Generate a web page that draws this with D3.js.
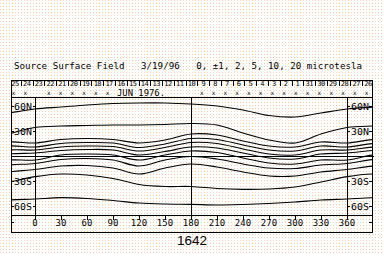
<!DOCTYPE html>
<html>
<head>
<meta charset="utf-8">
<script src="https://cdn.jsdelivr.net/npm/d3@7"></script>
<style>
  html, body { margin: 0; padding: 0; background: #fff; }
  svg { display: block; }
  text { font-family: "DejaVu Sans Mono", monospace; fill: #000; }
</style>
</head>
<body>
<svg id="chart"></svg>
<script>
"use strict";

// longitudes of the contour samples (periodic, 360 = 0)
const lons = [0, 30, 60, 90, 120, 150, 180, 210, 240, 270, 300, 330];

// contour latitudes (deg) at each longitude, levels in microtesla
const cP20 = [56.4, 58.8, 61.2, 63, 63.6, 63.6, 62.4, 60, 55.2, 48.6, 46.8, 51.6];
const cP10 = [34.2, 36, 36.6, 37.2, 37.2, 37.8, 39, 37.2, 27.6, 19.2, 15.6, 26.4];
const cP5 = [15.6, 19.8, 21, 19.8, 15.6, 19.2, 26.4, 25.2, 18, 12, 10.8, 16.8];
const cP2 = [10.8, 15, 16.2, 15.6, 10.2, 14.4, 21, 19.8, 13.2, 7.2, 6, 12];
const cP1 = [7.2, 10.8, 12, 11.4, 6, 10.2, 16.2, 15, 8.4, 2.4, 1.2, 7.2];
const c0 = [3.6, 6.6, 7.8, 7.2, 1.2, 5.4, 10.8, 9.6, 3.6, -2.4, -3.6, 2.4];
const cM1 = [-4.8, 1.2, 2.4, 1.2, -4.8, 1.2, 6, 4.2, -2.4, -8.4, -9.6, -4.8];
const cM2 = [-9, -4.2, -3, -4.8, -12, -4.8, -0.6, -3.6, -9.6, -14.4, -15, -10.8];
const cM5 = [-16.2, -12, -11.4, -14.4, -21.6, -14.4, -9.6, -13.2, -19.2, -24, -24, -19.2];
const cM10 = [-24.8, -21.6, -22.8, -27, -34.2, -36.6, -36.6, -39, -40, -39.6, -37.2, -31.2];
const cM20 = [-51.6, -50, -51, -53.4, -56.4, -57.6, -58, -58.8, -58.2, -57, -55.2, -52.8];
const contours = [cP20, cP10, cP5, cP2, cP1, c0, cM1, cM2, cM5, cM10, cM20];

// axes
const lonTicks = [0, 30, 60, 90, 120, 150, 180, 210, 240, 270, 300, 330, 360];
const latTicks = [60, 30, -30, -60];
const latLabels = ["60N", "30N", "30S", "60S"];

// day numbers along the top strip (time runs right to left)
const days = [25, 24, 23, 22, 21, 20, 19, 18, 17, 16, 15, 14, 13, 12, 11, 10, 9, 8, 7, 6, 5, 4, 3, 2, 1, 31, 30, 29, 28, 27, 26];
const markedDays = [25, 24, 22, 21, 20, 19, 18, 17, 9, 8, 7, 6, 5, 4, 3, 2, 1, 31, 30, 29, 28, 27, 26];

const titleText = "Source Surface Field   3/19/96   0, \u00b11, 2, 5, 10, 20 microtesla";
const monthText = "JUN 1976.";
const rotationText = "1642";

const width = 384;
const height = 254;

const svg = d3.select("#chart")
    .attr("width", width)
    .attr("height", height);

// dotted paper background
const defs = svg.append("defs");
const pat = defs.append("pattern")
    .attr("id", "dots")
    .attr("width", 6).attr("height", 6)
    .attr("patternUnits", "userSpaceOnUse");
pat.append("rect").attr("width", 6).attr("height", 6).attr("fill", "#fff");
[[0, 0, "#f8cc9c"], [3, 0, "#f6cfc6"], [0, 3, "#f6cfc6"], [3, 3, "#f8cc9c"]].forEach(d => {
    pat.append("rect").attr("x", d[0]).attr("y", d[1]).attr("width", 1).attr("height", 1).attr("fill", d[2]);
});
svg.append("rect").attr("width", width).attr("height", height).attr("fill", "url(#dots)");

// frame geometry
const outer = { left: 11, right: 372, top: 80, bottom: 232 };
const inner = { top: 97, bottom: 215 };

const x = d3.scaleLinear().domain([0, 360]).range([35, 347]);
const y = d3.scaleLinear().domain([-90, 90]).range([231, 81]);

const g = svg.append("g")
    .attr("fill", "none")
    .attr("stroke", "#000")
    .attr("shape-rendering", "crispEdges");

// outer box
g.append("rect")
    .attr("x", outer.left + 0.5).attr("y", outer.top + 0.5)
    .attr("width", outer.right - outer.left).attr("height", outer.bottom - outer.top);

// plot box top/bottom run the full width, sides only the inner band
[inner.top, inner.bottom].forEach(v => {
    g.append("line").attr("x1", outer.left).attr("x2", outer.right)
        .attr("y1", v + 0.5).attr("y2", v + 0.5);
});
[0, 180, 360].forEach(v => {
    g.append("line").attr("x1", Math.round(x(v)) + 0.5).attr("x2", Math.round(x(v)) + 0.5)
        .attr("y1", inner.top).attr("y2", inner.bottom);
});

// equator
g.append("line").attr("x1", outer.left).attr("x2", outer.right + 2)
    .attr("y1", Math.round(y(0)) + 0.5).attr("y2", Math.round(y(0)) + 0.5);

// contours, wrapped in longitude so they run past 0 and 360
svg.append("clipPath").attr("id", "clip")
    .append("rect")
    .attr("x", outer.left).attr("y", inner.top)
    .attr("width", outer.right - outer.left).attr("height", inner.bottom - inner.top);

const line = d3.line()
    .x(d => x(d[0]))
    .y(d => y(d[1]))
    .curve(d3.curveCatmullRom);

const cg = svg.append("g")
    .attr("clip-path", "url(#clip)")
    .attr("fill", "none")
    .attr("stroke", "#000")
    .attr("stroke-width", 1.1);

contours.forEach(c => {
    const pts = [];
    for (let k = -2; k <= 14; k++) {
        const i = ((k % 12) + 12) % 12;
        pts.push([k * 30, c[i]]);
    }
    cg.append("path").attr("d", line(pts));
});

// latitude labels and ticks, both sides
latTicks.forEach((v, i) => {
    const yy = Math.round(y(v)) + 0.5;
    [[outer.left, outer.left + 3], [33, 35], [347, 350], [outer.right - 3, outer.right]].forEach(s => {
        g.append("line").attr("x1", s[0]).attr("x2", s[1]).attr("y1", yy).attr("y2", yy);
    });
    svg.append("text").attr("x", 14).attr("y", yy + 3.5)
        .attr("font-size", 9).attr("textLength", 18).attr("lengthAdjust", "spacingAndGlyphs")
        .text(latLabels[i]);
    svg.append("text").attr("x", 351).attr("y", yy + 3.5)
        .attr("font-size", 9).attr("textLength", 18).attr("lengthAdjust", "spacingAndGlyphs")
        .text(latLabels[i]);
});

// longitude axis
lonTicks.forEach(v => {
    const xx = Math.round(x(v)) + 0.5;
    g.append("line").attr("x1", xx).attr("x2", xx).attr("y1", inner.bottom).attr("y2", inner.bottom + 5);
    svg.append("text").attr("x", x(v)).attr("y", 226)
        .attr("font-size", 9).attr("text-anchor", "middle")
        .text(v);
});
[[outer.left, outer.left + 3], [outer.right - 3, outer.right]].forEach(s => {
    g.append("line").attr("x1", s[0]).attr("x2", s[1]).attr("y1", 222.5).attr("y2", 222.5);
});

// day strip
const dx = d3.scalePoint().domain(days).range([15, 368]);
const step = dx.step();
days.forEach(d => {
    const xx = Math.round(dx(d) - step / 2) + 0.5;
    if (xx > outer.left + 1) {
        g.append("line").attr("x1", xx).attr("x2", xx).attr("y1", outer.top).attr("y2", outer.top + 6);
    }
    svg.append("text").attr("x", dx(d)).attr("y", outer.top + 6)
        .attr("font-size", 7).attr("text-anchor", "middle").attr("letter-spacing", -0.5)
        .text(d);
});
markedDays.forEach(d => {
    svg.append("text").attr("x", dx(d) - 1.5).attr("y", 95)
        .attr("font-size", 6).attr("text-anchor", "middle")
        .text("x");
});
svg.append("text").attr("x", 117).attr("y", 95.5)
    .attr("font-size", 8).attr("textLength", 48).attr("lengthAdjust", "spacingAndGlyphs")
    .text(monthText);

// title
svg.append("text").attr("x", 14).attr("y", 68.5)
    .attr("font-size", 9).attr("textLength", 348).attr("lengthAdjust", "spacingAndGlyphs")
    .style("white-space", "pre")
    .text(titleText);

// rotation number
svg.append("text").attr("x", 192).attr("y", 245)
    .style("font-family", "'Liberation Sans', Arial, sans-serif")
    .attr("font-size", 13.5).attr("text-anchor", "middle")
    .text(rotationText);
</script>
</body>
</html>
